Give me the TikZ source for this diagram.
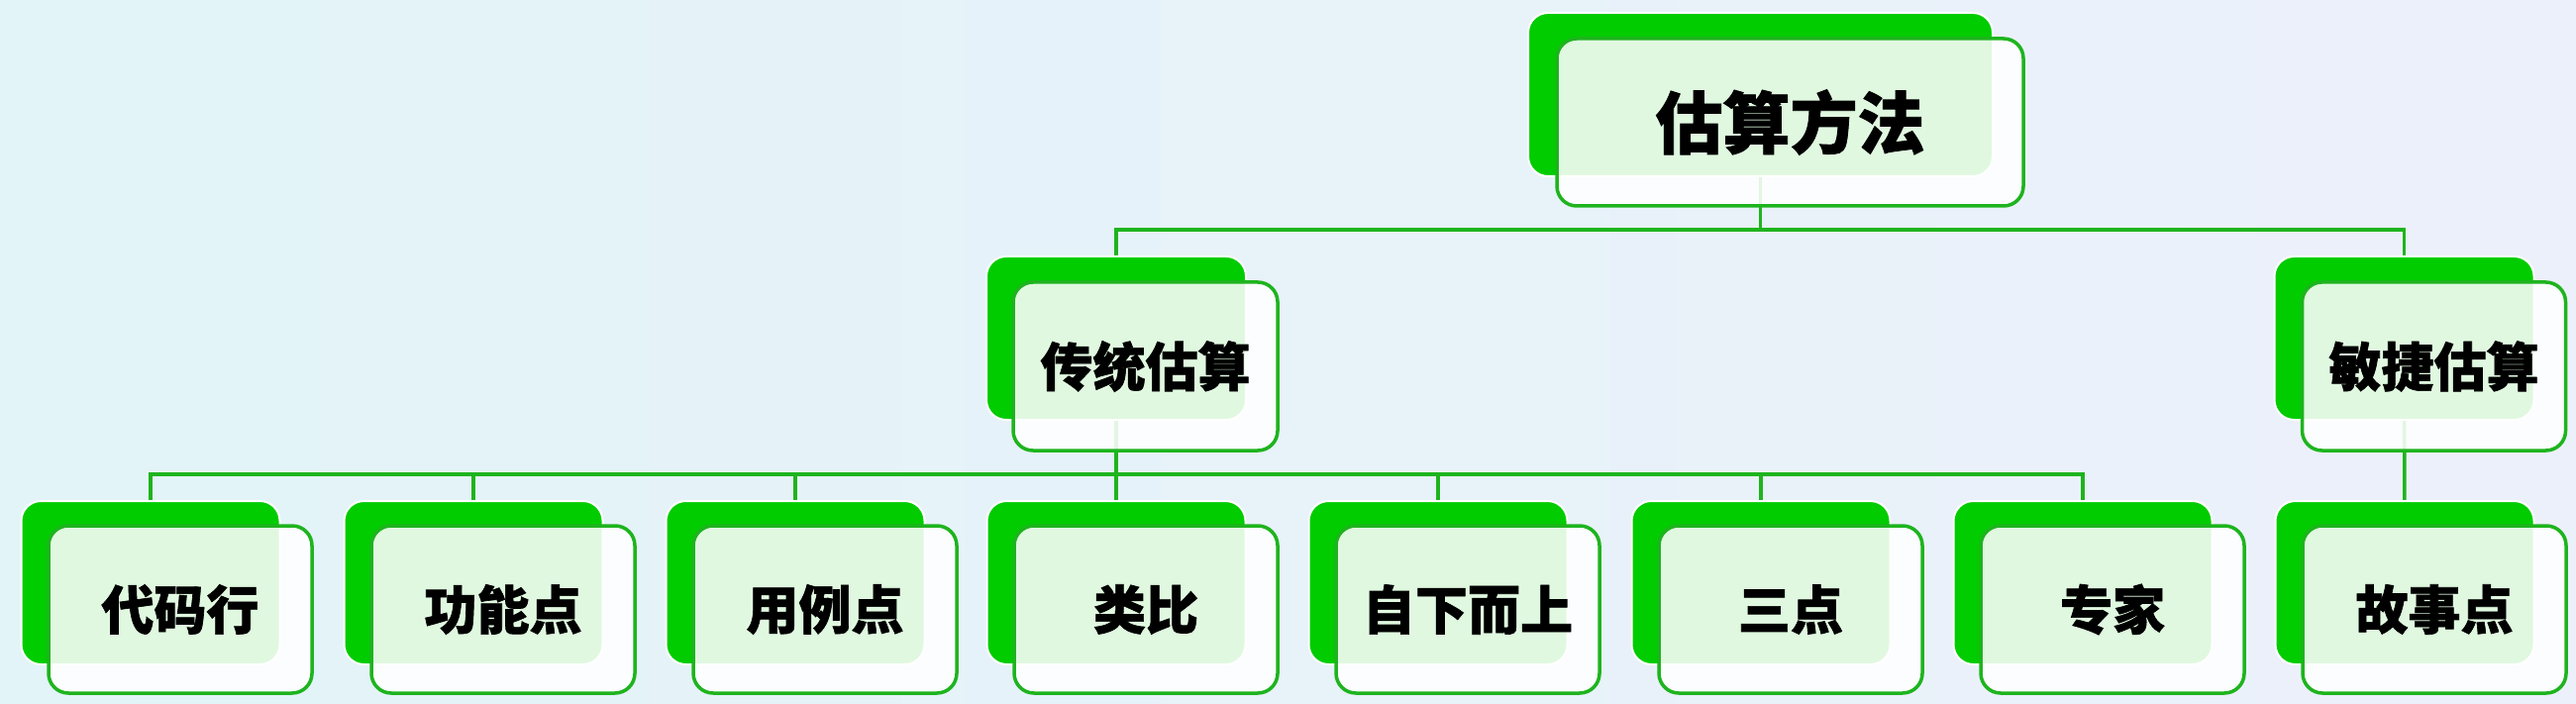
\documentclass[tikz,border=0pt]{standalone}
\usepackage{fontspec}
\newfontfamily\cjk{Noto Sans CJK SC}[BoldFeatures={FakeBold=1.2}]
\definecolor{gback}{RGB}{0,204,0}
\definecolor{gline}{RGB}{30,180,30}
\definecolor{bgl}{RGB}{226,244,248}
\definecolor{bgr}{RGB}{236,240,250}
\tikzset{
  backbox/.style={rectangle, rounded corners=20pt, fill=gback, draw=white, line width=2pt, inner sep=0pt, minimum height=165pt},
  frontbox/.style={rectangle, rounded corners=20pt, fill=white, fill opacity=0.88, text opacity=1, draw=gline, draw opacity=1, line width=3.5pt, inner sep=0pt, minimum height=169pt, font=\cjk\bfseries\fontsize{53}{53}\selectfont, text=black},
  topfont/.style={font=\cjk\bfseries\fontsize{68}{68}\selectfont},
  conn/.style={draw=gline, line width=3.5pt},
}
\begin{document}
\begin{tikzpicture}[x=1pt,y=-1pt]
\useasboundingbox (0,0) rectangle (2601,711);
\shade[left color=bgl, right color=bgr] (0,0) rectangle (2601,711);

% back boxes (positions)
\node[backbox, minimum width=469pt, draw=none] (topb) at (1777.5,95.5) {};
\node[backbox, minimum width=262pt, draw=none] (tradb) at (1127,341.5) {};
\node[backbox, minimum width=262pt, draw=none] (agib) at (2427.5,341.5) {};
\foreach \i/\x in {1/152,2/478,3/803,4/1127,5/1452,6/1778,7/2103,8/2428}{
  \node[backbox, minimum width=261pt, draw=none] (l\i b) at (\x,588.5) {};
}

% connectors
\coordinate (j1) at (1777.5,232);
\coordinate (j2) at (1127,479);
\draw[conn] (topb.center) -- (j1);
\draw[conn] (tradb.center) -- (tradb.center |- j1) -- (agib.center |- j1) -- (agib.center);
\draw[conn] (tradb.center) -- (j2);
\draw[conn] (l1b.center) -- (l1b.center |- j2) -- (l7b.center |- j2) -- (l7b.center);
\foreach \i in {2,3,4,5,6}{
  \draw[conn] (l\i b.center) -- (l\i b.center |- j2);
}
\draw[conn] (agib.center) -- (l8b.center);

% boxes drawn on top
\node[backbox, minimum width=469pt] at (topb) {};
\node[frontbox, topfont, minimum width=471pt] (topf) at (1807.5,123.5) {估算方法};

\node[backbox, minimum width=262pt] at (tradb) {};
\node[frontbox, minimum width=267pt, minimum height=170pt] (tradf) at (1156.5,370) {传统估算};

\node[backbox, minimum width=262pt] at (agib) {};
\node[frontbox, minimum width=266pt, minimum height=170pt] (agif) at (2457.5,370) {敏捷估算};

\foreach \i/\x/\t in {1/152/代码行,2/478/功能点,3/803/用例点,4/1127/类比,5/1452/自下而上,6/1778/三点,7/2103/专家,8/2428/故事点}{
  \node[backbox, minimum width=261pt] at (l\i b) {};
  \node[frontbox, minimum width=266pt] (l\i f) at (\x+30,615.5) {\t};
}
\end{tikzpicture}
\end{document}
